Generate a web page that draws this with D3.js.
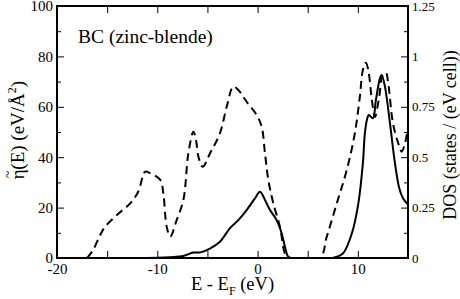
<!DOCTYPE html>
<html>
<head>
<meta charset="utf-8">
<script src="https://cdn.jsdelivr.net/npm/d3@7"></script>
<style>
  body { margin: 0; background: #fff; }
  svg { display: block; }
</style>
</head>
<body>
<div id="chart"></div>
<script>
// eta(E), dashed, left axis (eV/A^2)
var etaE = [-17, -16.4, -15.7, -15.2, -14.05, -12.7, -11.9, -11.2, -10.7, -9.7, -9.4, -9.06, -8.7, -8.07, -7.4, -6.9, -6.4, -6.14, -5.9, -5.47, -4.75, -3.75, -3.08, -2.42, -1.92, -1.09, -0.09, 0.41, 0.74, 1.07, 1.57, 2.23, 2.7, 3.0,
            6.2, 6.9, 7.9, 8.9, 9.7, 10.2, 10.5, 10.8, 11.04, 11.4, 11.7, 12.13, 12.47, 12.8, 13.03, 13.5, 14.03, 14.37, 14.7, 15.0];
var etaV = [0, 3.2, 9.1, 12.4, 17, 21.7, 26.3, 34.3, 33.6, 31, 25.7, 12.4, 8.5, 15, 23, 41.5, 50.1, 46.8, 40.2, 36.2, 41.5, 49.5, 60, 68, 66.7, 62, 56.7, 52.1, 41.5, 31, 21.7, 12.4, 2, 0,
            0, 8.5, 21.7, 35, 49.5, 64, 74.6, 77.5, 74.6, 62.7, 56, 64, 72.6, 73.5, 69.3, 53.5, 45.5, 42.2, 45.5, 52];

// DOS, solid, right axis (states / (eV cell))
var dosE = [-20, -12, -10, -8.7, -7.4, -6.4, -5.7, -4.75, -3.75, -2.75, -1.92, -1.09, -0.26, 0.24, 0.74, 1.24, 1.9, 2.4, 2.73, 3.06, 3.4,
            7.5, 8.5, 9.4, 10.05, 10.5, 10.7, 10.9, 11.1, 11.5, 11.8, 12.2, 12.37, 12.7, 13.2, 13.7, 14.13, 14.5, 15.0];
var dosV = [0, 0, 0.001, 0.004, 0.01, 0.027, 0.028, 0.047, 0.081, 0.148, 0.188, 0.238, 0.296, 0.329, 0.288, 0.238, 0.188, 0.123, 0.056, 0.006, 0,
            0, 0.022, 0.122, 0.271, 0.47, 0.619, 0.685, 0.709, 0.693, 0.784, 0.891, 0.908, 0.85, 0.669, 0.47, 0.346, 0.296, 0.265];

var leftTicks = [0, 20, 40, 60, 80, 100];
var rightTicks = [0, 0.25, 0.5, 0.75, 1, 1.25];
var xTicks = [-20, -10, 0, 10];

var FONT = "Liberation Serif";

var W = 460, H = 299;
var margin = { top: 6, right: 52, bottom: 41, left: 57 };
var iw = W - margin.left - margin.right, ih = H - margin.top - margin.bottom;

var x = d3.scaleLinear().domain([-20, 15]).range([0, iw]);
var yL = d3.scaleLinear().domain([0, 100]).range([ih, 0]);
var yR = d3.scaleLinear().domain([0, 1.25]).range([ih, 0]);

var svg = d3.select("#chart").append("svg").attr("width", W).attr("height", H);
var g = svg.append("g").attr("transform", "translate(" + margin.left + "," + margin.top + ")");

var line = d3.line().curve(d3.curveCatmullRom.alpha(0.5));

var clip = svg.append("defs").append("clipPath").attr("id", "clip")
  .append("rect").attr("width", iw).attr("height", ih);
var plot = g.append("g").attr("clip-path", "url(#clip)");

plot.append("path")
  .attr("d", line(etaE.map(function (e, i) { return [x(e), yL(etaV[i])]; })))
  .attr("fill", "none").attr("stroke", "#000").attr("stroke-width", 2)
  .attr("stroke-dasharray", "8,5");

plot.append("path")
  .attr("d", line(dosE.map(function (e, i) { return [x(e), yR(dosV[i])]; })))
  .attr("fill", "none").attr("stroke", "#000").attr("stroke-width", 2);

// axes: inward ticks, minor ticks in between
function styleAxis(sel) {
  sel.attr("font-family", null);
  sel.select(".domain").remove();
  sel.selectAll("line").attr("stroke", "#000").attr("stroke-width", 1);
  sel.selectAll("text").attr("fill", "#000").style("font-family", FONT);
}

var xMinor = d3.range(-20, 15.01, 5);
g.append("g").attr("transform", "translate(0," + ih + ")")
  .call(d3.axisBottom(x).tickValues(xMinor).tickSize(-7)
    .tickFormat(function (d) { return xTicks.indexOf(d) >= 0 ? d : ""; }))
  .call(styleAxis)
  .selectAll("text").attr("font-size", 15).attr("dy", "0.71em").attr("y", 5);

g.append("g")
  .call(d3.axisTop(x).tickValues(xMinor).tickSize(-7).tickFormat(""))
  .call(styleAxis);

g.append("g")
  .call(d3.axisLeft(yL).tickValues(leftTicks).tickSize(-7))
  .call(styleAxis)
  .selectAll("text").attr("font-size", 15).attr("x", -4);
g.append("g")
  .call(d3.axisLeft(yL).tickValues(d3.range(10, 100, 20)).tickSize(-4).tickFormat(""))
  .call(styleAxis);

g.append("g").attr("transform", "translate(" + iw + ",0)")
  .call(d3.axisRight(yR).tickValues(rightTicks).tickSize(-7)
    .tickFormat(function (d) { return d3.format("")(d); }))
  .call(styleAxis)
  .selectAll("text").attr("font-size", 13).attr("x", 4);
g.append("g").attr("transform", "translate(" + iw + ",0)")
  .call(d3.axisRight(yR).tickValues(d3.range(0.125, 1.25, 0.25)).tickSize(-4).tickFormat(""))
  .call(styleAxis);

// frame
g.append("rect").attr("width", iw).attr("height", ih)
  .attr("fill", "none").attr("stroke", "#000").attr("stroke-width", 2);

// labels
g.append("text").attr("x", 21).attr("y", 37).attr("font-size", 19.5)
  .style("font-family", FONT).text("BC (zinc-blende)");

var xl = svg.append("text").attr("x", margin.left + iw / 2).attr("y", 290)
  .attr("text-anchor", "middle").attr("font-size", 18.5).style("font-family", FONT);
xl.append("tspan").text("E - E");
xl.append("tspan").attr("font-size", 12).attr("dy", 5).text("F");
xl.append("tspan").attr("dy", -5).text(" (eV)");

var yl = svg.append("text").attr("transform", "translate(24,130) rotate(-90)")
  .attr("text-anchor", "middle").attr("font-size", 19).style("font-family", FONT);
yl.append("tspan").text("\u03b7");
yl.append("tspan").attr("font-size", 14).attr("dx", -9).attr("dy", -11).text("~");
yl.append("tspan").attr("dx", 1).attr("dy", 11).text("(E) (eV/\u00c5");
yl.append("tspan").attr("font-size", 12).attr("dy", -8).text("2");
yl.append("tspan").attr("dy", 8).text(")");

svg.append("text").attr("transform", "translate(456,135) rotate(-90)")
  .attr("text-anchor", "middle").attr("font-size", 18).style("font-family", FONT)
  .text("DOS (states / (eV cell))");
</script>
</body>
</html>
